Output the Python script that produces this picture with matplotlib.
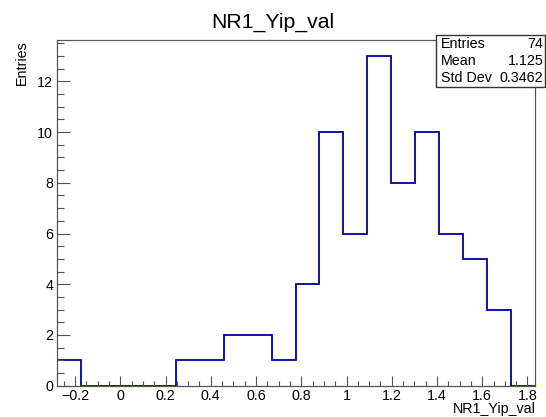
import numpy as np
import matplotlib
matplotlib.use("Agg")
import matplotlib.pyplot as plt
from matplotlib.ticker import MultipleLocator, FuncFormatter
from matplotlib.patches import Rectangle

plt.rcParams['font.family'] = ['Liberation Sans', 'DejaVu Sans']

# Histogram definition
hist_name = "NR1_Yip_val"
x_min, x_max = -0.281, 1.831
counts = [1, 0, 0, 0, 0, 1, 1, 2, 2, 1, 4, 10, 6, 13, 8, 10, 6, 5, 3, 0]
y_max = 13.65

# Statistics box contents
stat_names = ["Entries", "Mean", "Std Dev"]
stat_values = ["74", "1.125", "0.3462"]

W, H = 546, 417
fig = plt.figure(figsize=(W / 100, H / 100), dpi=100)
ax = fig.add_axes([56.7 / W, (H - 385.7) / H, (534.5 - 56.7) / W, (385.7 - 39.5) / H])

edges = np.linspace(x_min, x_max, len(counts) + 1)
ax.stairs(counts, edges, color='#000099', linewidth=1.3, baseline=0)

ax.set_xlim(x_min, x_max)
ax.set_ylim(0, y_max)

def root_fmt(v, pos):
    s = "%g" % round(v, 6)
    return s.replace('-', '\u2212')

ax.xaxis.set_major_locator(MultipleLocator(0.2))
ax.xaxis.set_minor_locator(MultipleLocator(0.05))
ax.yaxis.set_major_locator(MultipleLocator(2))
ax.yaxis.set_minor_locator(MultipleLocator(0.5))
ax.xaxis.set_major_formatter(FuncFormatter(root_fmt))
ax.yaxis.set_major_formatter(FuncFormatter(root_fmt))

ax.tick_params(axis='both', which='both', direction='in', colors='#555555',
               labelcolor='black', labelsize=10.3, width=0.8)
ax.tick_params(axis='x', which='major', length=7.5, pad=2.5)
ax.tick_params(axis='x', which='minor', length=3.8)
ax.tick_params(axis='y', which='major', length=9.5, pad=2.5)
ax.tick_params(axis='y', which='minor', length=4.8)
ax.tick_params(top=False, right=False)

for sp in ax.spines.values():
    sp.set_color('#555555')
    sp.set_linewidth(0.9)

# Titles
fig.text(0.5, 1 - 27.5 / H, hist_name, ha='center', va='baseline', fontsize=15.3)
fig.text(536 / W, 1 - 413.5 / H, hist_name, ha='right', va='baseline', fontsize=10.3)
fig.text(26 / W, 1 - 40 / H, "Entries", ha='right', va='baseline', rotation=90,
         rotation_mode='anchor', fontsize=10.3)

# Statistics box
bx0, bx1, by0, by1 = 436, 545, 35, 86.5
fig.patches.append(Rectangle((bx0 / W, 1 - by1 / H), (bx1 - bx0) / W, (by1 - by0) / H,
                             transform=fig.transFigure, facecolor='white',
                             edgecolor='#333333', linewidth=1.0, zorder=5))
row_base = [48.3, 65.0, 82.3]
for name, val, yb in zip(stat_names, stat_values, row_base):
    fig.text(441 / W, 1 - yb / H, name, ha='left', va='baseline', fontsize=10.3, zorder=6)
    fig.text(543.5 / W, 1 - yb / H, val, ha='right', va='baseline', fontsize=10.3, zorder=6)

fig.savefig("out.png", dpi=100)
